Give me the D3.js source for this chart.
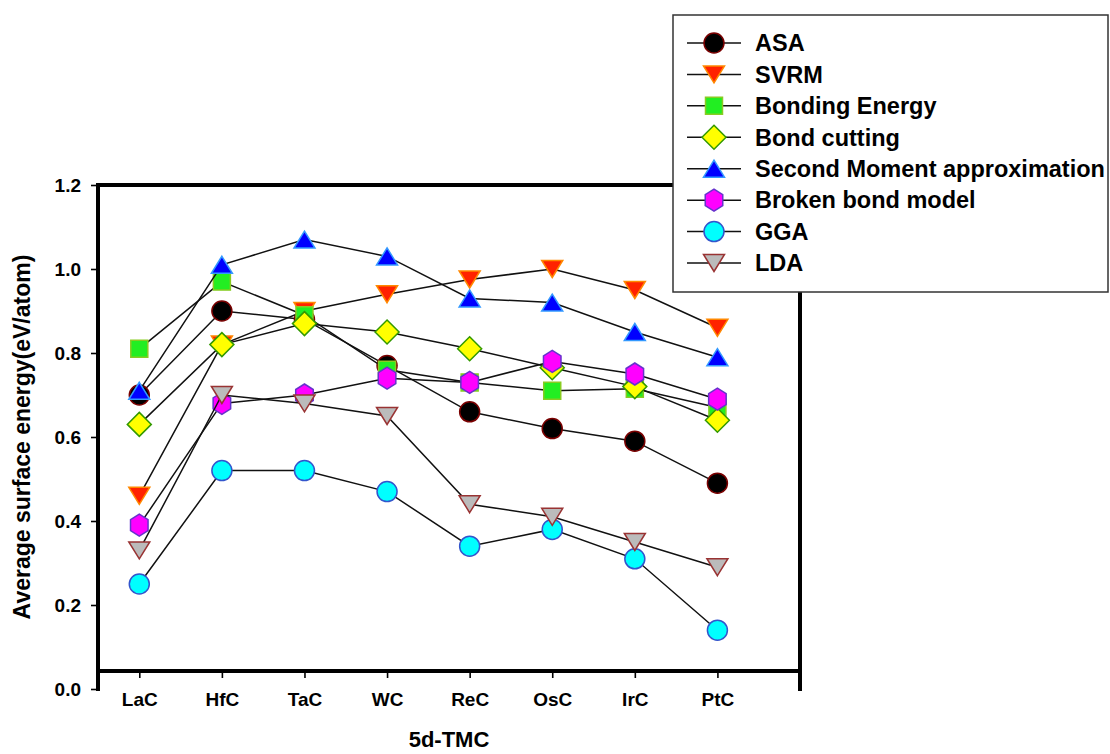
<!DOCTYPE html>
<html>
<head>
<meta charset="utf-8">
<script src="https://cdn.jsdelivr.net/npm/d3@7"></script>
<style>
  html, body { margin: 0; padding: 0; background: #fff; }
  svg { display: block; }
  text { font-family: "Liberation Sans", Arial, sans-serif; font-weight: bold; fill: #000; }
</style>
</head>
<body>
<svg id="chart" width="1110" height="754"></svg>
<script>
// ---------- data ----------
const categories = ["LaC", "HfC", "TaC", "WC", "ReC", "OsC", "IrC", "PtC"];
const yTicks = [0.0, 0.2, 0.4, 0.6, 0.8, 1.0, 1.2];

const seriesNames = ["ASA", "SVRM", "Bonding Energy", "Bond cutting",
  "Second Moment approximation", "Broken bond model", "GGA", "LDA"];

const asa      = [0.70, 0.90, 0.88, 0.77, 0.66, 0.62, 0.59, 0.49];
const svrm     = [0.46, 0.82, 0.90, 0.94, 0.975, 1.00, 0.95, 0.86];
const bondingE = [0.81, 0.97, 0.89, 0.76, 0.73, 0.71, 0.715, 0.67];
const bondCut  = [0.63, 0.82, 0.87, 0.85, 0.81, 0.765, 0.72, 0.64];
const secondMo = [0.71, 1.01, 1.07, 1.03, 0.93, 0.92, 0.85, 0.79];
const brokenBd = [0.39, 0.68, 0.70, 0.74, 0.73, 0.78, 0.75, 0.69];
const gga      = [0.25, 0.52, 0.52, 0.47, 0.34, 0.38, 0.31, 0.14];
const lda      = [0.33, 0.70, 0.68, 0.65, 0.44, 0.41, 0.35, 0.29];

const seriesValues = [asa, svrm, bondingE, bondCut, secondMo, brokenBd, gga, lda];

// ---------- styles ----------
const styles = [
  { shape: "circle",   fill: "#000000", stroke: "#7a0000" },
  { shape: "triDown",  fill: "#ff2200", stroke: "#ff8800" },
  { shape: "square",   fill: "#22ee22", stroke: "#88cc22" },
  { shape: "diamond",  fill: "#ffff00", stroke: "#339900" },
  { shape: "triUp",    fill: "#0000ff", stroke: "#3399ff" },
  { shape: "hexagon",  fill: "#ff00ff", stroke: "#6633cc" },
  { shape: "circle",   fill: "#00ffff", stroke: "#3355cc" },
  { shape: "triDown",  fill: "#bbbbbb", stroke: "#993333" }
];

function shapePath(shape) {
  switch (shape) {
    case "circle": { const r = 10; return `M${-r},0A${r},${r} 0 1,0 ${r},0A${r},${r} 0 1,0 ${-r},0Z`; }
    case "square": { const s = 8.5; return `M${-s},${-s}H${s}V${s}H${-s}Z`; }
    case "diamond": { const d = 12; return `M0,${-d}L${d},0L0,${d}L${-d},0Z`; }
    case "triUp": { const w = 10.5, h = 8.5; return `M0,${-h}L${w},${h}L${-w},${h}Z`; }
    case "triDown": { const w = 10.5, h = 8.5; return `M0,${h}L${w},${-h}L${-w},${-h}Z`; }
    case "hexagon": {
      const r = 11; const pts = [];
      for (let i = 0; i < 6; i++) { const a = Math.PI / 2 + i * Math.PI / 3; pts.push([r * Math.cos(a) * 0.92, r * Math.sin(a)]); }
      return "M" + pts.map(p => p.join(",")).join("L") + "Z";
    }
  }
}

(function () {
  // ---------- layout ----------
  const svg = d3.select("#chart");
  const pLeft = 98, pRight = 800, pTop = 185, pBottom = 689, xAxisY = 671;

  const x = d3.scaleLinear().domain([-0.5, categories.length]).range([pLeft, pRight]);
  const y = d3.scaleLinear().domain([0, 1.2]).range([pBottom, pTop]);

  // y axis
  const yAxis = d3.axisLeft(y).tickValues(yTicks).tickFormat(d3.format(".1f")).tickSize(7).tickPadding(10);
  const gy = svg.append("g").attr("transform", `translate(${pLeft},0)`).call(yAxis);
  gy.select(".domain").remove();
  gy.selectAll(".tick line").attr("stroke", "#000").attr("stroke-width", 1.6);
  gy.selectAll(".tick text").style("font-size", "19px").style("font-family", "Liberation Sans, Arial, sans-serif").style("font-weight", "bold").attr("fill", "#000");

  // x axis
  const xAxis = d3.axisBottom(x).tickValues(d3.range(categories.length)).tickFormat(i => categories[i]).tickSize(7).tickPadding(15);
  const gx = svg.append("g").attr("transform", `translate(0,${xAxisY})`).call(xAxis);
  gx.select(".domain").remove();
  gx.selectAll(".tick line").attr("stroke", "#000").attr("stroke-width", 1.6);
  gx.selectAll(".tick text").style("font-size", "19px").style("font-family", "Liberation Sans, Arial, sans-serif").style("font-weight", "bold").attr("fill", "#000");

  // frame
  const frame = svg.append("g").attr("stroke", "#000").attr("stroke-width", 4).attr("fill", "none");
  frame.append("line").attr("x1", pLeft).attr("x2", pLeft).attr("y1", pTop - 2).attr("y2", pBottom + 2);
  frame.append("line").attr("x1", pRight).attr("x2", pRight).attr("y1", pTop - 2).attr("y2", pBottom + 2);
  frame.append("line").attr("x1", pLeft - 2).attr("x2", pRight + 2).attr("y1", pTop).attr("y2", pTop);
  frame.append("line").attr("x1", pLeft).attr("x2", pRight).attr("y1", xAxisY).attr("y2", xAxisY);

  // titles
  svg.append("text").attr("x", (pLeft + pRight) / 2).attr("y", 747)
    .attr("text-anchor", "middle").style("font-size", "22px").text("5d-TMC");
  svg.append("text").attr("transform", `translate(30,${y(0.6)}) rotate(-90)`)
    .attr("text-anchor", "middle").style("font-size", "23px").text("Average surface energy(eV/atom)");

  // series
  const line = d3.line().x((d, i) => x(i)).y(d => y(d));
  seriesValues.forEach((vals, si) => {
    const st = styles[si];
    const g = svg.append("g");
    g.append("path").attr("d", line(vals)).attr("fill", "none").attr("stroke", "#111").attr("stroke-width", 1.5);
    g.selectAll("path.m").data(vals).join("path").attr("class", "m")
      .attr("transform", (d, i) => `translate(${x(i)},${y(d)})`)
      .attr("d", shapePath(st.shape))
      .attr("fill", st.fill).attr("stroke", st.stroke).attr("stroke-width", 1.5);
  });

  // legend
  const lg = svg.append("g");
  lg.append("rect").attr("x", 673).attr("y", 15).attr("width", 435).attr("height", 277)
    .attr("fill", "#fff").attr("stroke", "#333").attr("stroke-width", 1.5);
  const rowY = d3.scaleLinear().domain([0, seriesNames.length - 1]).range([43, 263]);
  seriesNames.forEach((name, i) => {
    const ry = rowY(i);
    const st = styles[i];
    lg.append("line").attr("x1", 687).attr("x2", 741).attr("y1", ry).attr("y2", ry).attr("stroke", "#111").attr("stroke-width", 1.5);
    lg.append("path").attr("transform", `translate(714,${ry})`).attr("d", shapePath(st.shape))
      .attr("fill", st.fill).attr("stroke", st.stroke).attr("stroke-width", 1.5);
    lg.append("text").attr("x", 755).attr("y", ry + 8.3).style("font-size", "23.5px").text(name);
  });
})();
</script>
</body>
</html>
